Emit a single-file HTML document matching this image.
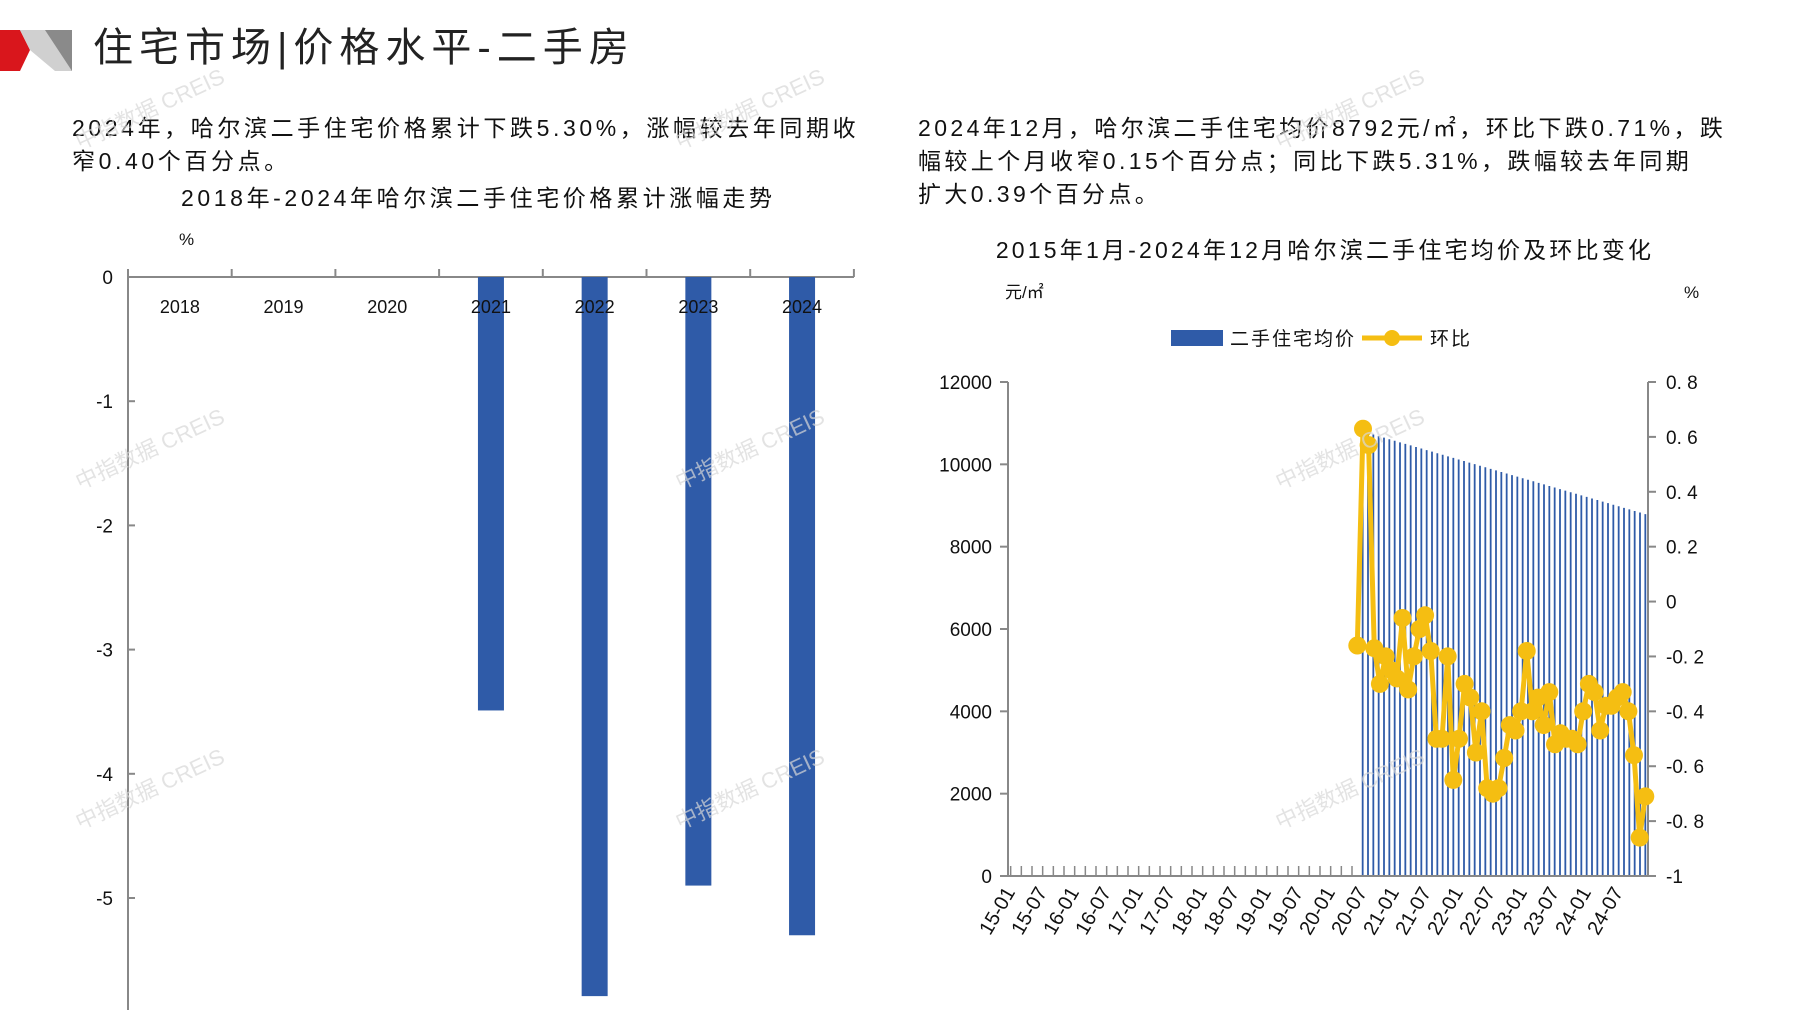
<!DOCTYPE html>
<html><head><meta charset="utf-8"><style>
body{margin:0;width:1797px;height:1010px;background:#fff;overflow:hidden;font-family:"Liberation Sans","Noto Sans CJK SC",sans-serif;}
svg{position:absolute;left:0;top:0}
</style></head><body>
<svg id="s" width="1797" height="1010" xmlns="http://www.w3.org/2000/svg" font-family="Liberation Sans, Noto Sans CJK SC, sans-serif">
<polygon points="0,30 20,30 30,50 20,71 0,71" fill="#d9161c"/>
<polygon points="20,30 72,30 72,71 55,71 30,50" fill="#d0d0d0"/>
<polygon points="45,30 72,30 72,71" fill="#8a8a8a"/>
<text x="93" y="61" font-size="40" fill="#222" letter-spacing="6">住宅市场|价格水平-二手房</text>
<text x="72" y="136" font-size="23" fill="#111" letter-spacing="3.6">2024年，哈尔滨二手住宅价格累计下跌5.30%，涨幅较去年同期收</text>
<text x="72" y="169" font-size="23" fill="#111" letter-spacing="3.6">窄0.40个百分点。</text>
<text x="181" y="206" font-size="23" fill="#111" letter-spacing="3.6">2018年-2024年哈尔滨二手住宅价格累计涨幅走势</text>
<text x="179" y="245" font-size="17" fill="#111">%</text>
<text x="918" y="136" font-size="23" fill="#111" letter-spacing="3.4">2024年12月，哈尔滨二手住宅均价8792元/㎡，环比下跌0.71%，跌</text>
<text x="918" y="169" font-size="23" fill="#111" letter-spacing="3.4">幅较上个月收窄0.15个百分点；同比下跌5.31%，跌幅较去年同期</text>
<text x="918" y="202" font-size="23" fill="#111" letter-spacing="3.4">扩大0.39个百分点。</text>
<text x="1325" y="258" font-size="23" fill="#111" text-anchor="middle" letter-spacing="3.2">2015年1月-2024年12月哈尔滨二手住宅均价及环比变化</text>
<text x="1005" y="298" font-size="17" fill="#111">元/㎡</text>
<text x="1684" y="298" font-size="17" fill="#111">%</text>
<rect x="1171" y="330" width="52" height="16" fill="#2f5ba8"/>
<text x="1230" y="345" font-size="19" fill="#111" letter-spacing="2">二手住宅均价</text>
<line x1="1362" y1="338" x2="1422" y2="338" stroke="#f5be12" stroke-width="5"/>
<circle cx="1392" cy="338" r="8" fill="#f5be12"/>
<text x="1430" y="345" font-size="19" fill="#111" letter-spacing="2">环比</text>
<g id="g"></g>
</svg>
<script>
var g=document.getElementById('g'),h='';
function L(a,b,c,d,col,w){h+='<line x1="'+a+'" y1="'+b+'" x2="'+c+'" y2="'+d+'" stroke="'+col+'" stroke-width="'+w+'"/>';}
function T(x,y,t,s,anc,extra){h+='<text x="'+x+'" y="'+y+'" font-size="'+s+'" fill="#111" text-anchor="'+(anc||'start')+'" '+(extra||'')+'>'+t+'</text>';}
var y0=277,pu=124.2,ax=128,cw=103.7;
L(ax,y0,ax,1010,'#888',2);L(ax,y0,854,y0,'#888',2);
for(var i=0;i<=7;i++){var x=ax+cw*i;L(x,y0,x,y0-8,'#888',2);}
for(var v=0;v<=5;v++){var y=y0+v*pu;L(ax,y,ax+7,y,'#888',2);T(113,y+7,v?'-'+v:'0',19,'end');}
var vals=[0,0,0,3.49,5.79,4.9,5.3],yrs=['2018','2019','2020','2021','2022','2023','2024'];
for(i=0;i<7;i++){var cx=ax+cw*(i+0.5);if(vals[i])h+='<rect x="'+(cx-13)+'" y="'+y0+'" width="26" height="'+(vals[i]*pu)+'" fill="#2f5ba8"/>';T(cx,313,yrs[i],18,'middle');}
var X0=1008,X1=1648,B=876,T0=382,mw=(X1-X0)/120;
for(i=0;i<=6;i++){var y=B-i*(B-T0)/6;L(X0,y,X0-8,y,'#888',2);T(992,y+7,String(i*2000),19,'end');}
for(i=0;i<=9;i++){var y=B-i*(B-T0)/9;L(X1,y,X1+8,y,'#888',2);var v=(-1+i*0.2);var s=Math.abs(v)<1e-9?'0':(v<0?'-':'')+(Math.abs(v)%1===0?Math.abs(v).toFixed(0):Math.abs(v).toFixed(1).replace('.','. '));T(1666,y+7,s,19,'start');}
for(i=0;i<120;i++){var x=X0+(i+0.5)*mw;if(i<66){if(i%2==0)L(x,B,x,B-10,'#888',1.5);}else{var p=10800-(i-66)/53*(10800-8792);L(x,B,x,B-p/12000*(B-T0),'#2f5ba8',1.8);}}
L(X0,T0,X0,B,'#888',2);L(X1,T0,X1,B,'#888',2);L(X0,B,X1,B,'#888',2);
var lb=['15-01','15-07','16-01','16-07','17-01','17-07','18-01','18-07','19-01','19-07','20-01','20-07','21-01','21-07','22-01','22-07','23-01','23-07','24-01','24-07'];
for(i=0;i<20;i++){var x=X0+(i*6+0.5)*mw+5;T(x,892,lb[i],20,'end','transform="rotate(-60 '+x+' 892)"');}
var d=[-0.16,0.63,0.57,-0.17,-0.30,-0.2,-0.25,-0.28,-0.06,-0.32,-0.2,-0.1,-0.05,-0.18,-0.5,-0.5,-0.2,-0.65,-0.5,-0.3,-0.35,-0.55,-0.4,-0.68,-0.7,-0.68,-0.57,-0.45,-0.47,-0.4,-0.18,-0.4,-0.35,-0.45,-0.33,-0.52,-0.48,-0.5,-0.5,-0.52,-0.4,-0.3,-0.33,-0.47,-0.38,-0.38,-0.35,-0.33,-0.4,-0.56,-0.86,-0.71];
var pts=[],n=d.length;
for(i=0;i<n;i++){var x=X0+(65.5)*mw+i*(54*mw)/(n-1);var y=B-(d[i]+1)*(B-T0)/1.8;pts.push(x.toFixed(1)+','+y.toFixed(1));}
h+='<polyline points="'+pts.join(' ')+'" fill="none" stroke="#f5be12" stroke-width="5" stroke-linejoin="round"/>';
pts.forEach(function(p){var q=p.split(',');h+='<circle cx="'+q[0]+'" cy="'+q[1]+'" r="9" fill="#f5be12"/>';});
[[80,150],[680,150],[1280,150],[80,490],[680,490],[1280,490],[80,830],[680,830],[1280,830]].forEach(function(p){h+='<text x="'+p[0]+'" y="'+p[1]+'" font-size="22" fill="#d8d8d8" opacity="0.7" transform="rotate(-25 '+p[0]+' '+p[1]+')">中指数据 CREIS</text>';});
g.innerHTML=h;
</script>
</body></html>
